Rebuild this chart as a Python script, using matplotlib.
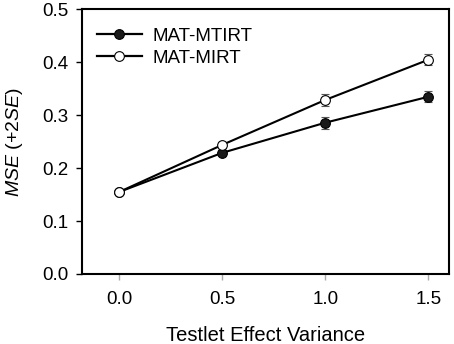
import matplotlib
matplotlib.use("Agg")
from matplotlib import pyplot as plt
from matplotlib.lines import Line2D

plt.rcParams["font.family"] = ["Liberation Sans", "DejaVu Sans"]
plt.rcParams["mathtext.fontset"] = "custom"
plt.rcParams["mathtext.rm"] = "Liberation Sans"
plt.rcParams["mathtext.it"] = "Liberation Sans:italic"

# Testlet effect variance conditions
VARIANCE = [0.0, 0.5, 1.0, 1.5]
# MSE for each model and its 2SE bars
MSE_MTIRT = [0.155, 0.229, 0.286, 0.335]
SE2_MTIRT = [0.002, 0.004, 0.011, 0.010]
MSE_MIRT = [0.155, 0.244, 0.329, 0.405]
SE2_MIRT = [0.002, 0.005, 0.012, 0.010]

fig = plt.figure(figsize=(4.54, 3.44), dpi=100)
ax = fig.add_axes([0.1806, 0.2035, 0.8084, 0.769])

ax.errorbar(VARIANCE, MSE_MTIRT, yerr=SE2_MTIRT, color="black", lw=1.5,
            marker="o", ms=7, mfc="#1a1a1a", mec="black", mew=0.8,
            ecolor="#555555", elinewidth=0.8, capsize=3, zorder=3)
ax.errorbar(VARIANCE, MSE_MIRT, yerr=SE2_MIRT, color="black", lw=1.5,
            marker="o", ms=7, mfc="white", mec="black", mew=0.8,
            ecolor="#555555", elinewidth=0.8, capsize=3, zorder=4)

ax.set_xlim(-0.18, 1.6)
ax.set_ylim(0, 0.5)
ax.set_xticks(VARIANCE)
ax.set_xticklabels(["0.0", "0.5", "1.0", "1.5"])
ax.set_yticks([0, 0.1, 0.2, 0.3, 0.4, 0.5])
ax.set_yticklabels(["0.0", "0.1", "0.2", "0.3", "0.4", "0.5"])
ax.tick_params(axis="both", direction="out", labelsize=13.5, length=4, width=1)
ax.tick_params(axis="x", pad=8, color="#aaaaaa")
ax.tick_params(axis="y", pad=6)
for sp in ax.spines.values():
    sp.set_linewidth(1.5)

ax.set_xlabel("Testlet Effect Variance", fontsize=14.5, labelpad=13)
ax.set_ylabel(r"$\it{MSE}$ (+2$\it{SE}$)", fontsize=14, labelpad=12)

# legend without the error bar glyphs
handles = [
    Line2D([], [], color="black", lw=1.6, marker="o", ms=7, mfc="#1a1a1a", mec="black", mew=0.8),
    Line2D([], [], color="black", lw=1.6, marker="o", ms=7, mfc="white", mec="black", mew=0.8),
]
ax.legend(handles, ["MAT-MTIRT", "MAT-MIRT"], loc="upper left", frameon=False,
          fontsize=13.5, handlelength=2.4, handletextpad=0.55, labelspacing=0.25,
          borderaxespad=0.3, bbox_to_anchor=(0.005, 0.98))

fig.savefig("out.png", dpi=100)
